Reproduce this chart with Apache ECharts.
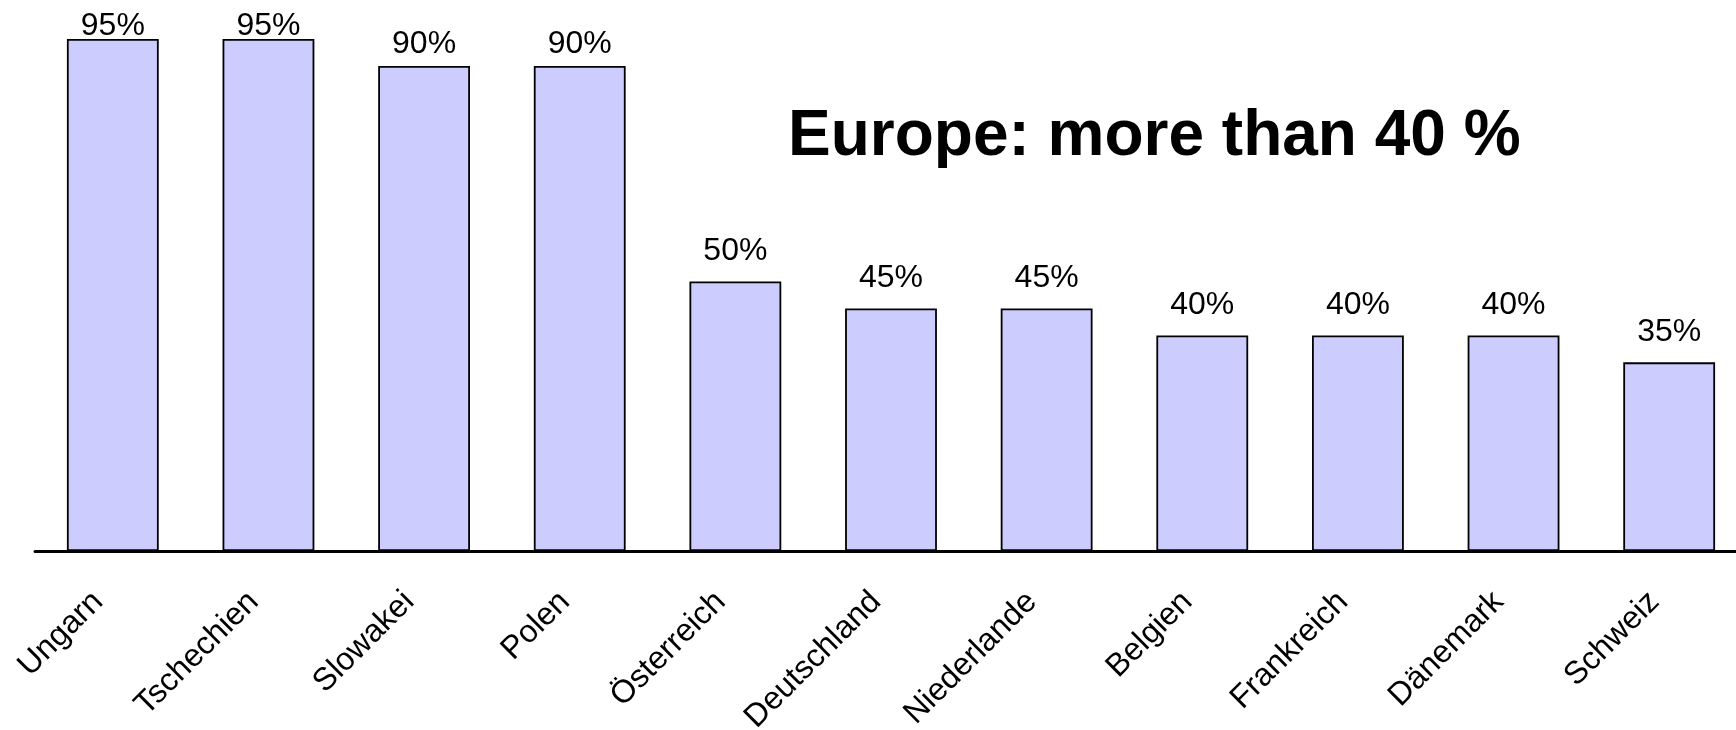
<!DOCTYPE html>
<html>
<head>
<meta charset="utf-8">
<script src="https://cdn.jsdelivr.net/npm/echarts@6/dist/echarts.min.js"></script>
<style>html,body{margin:0;padding:0;background:#fff}#c{width:1736px;height:730px}</style>
</head>
<body>
<div id="c"></div>
<script>
const categories = ['Ungarn','Tschechien','Slowakei','Polen','Österreich','Deutschland','Niederlande','Belgien','Frankreich','Dänemark','Schweiz'];
const values = [95,95,90,90,50,45,45,40,40,40,35];
const titleText = 'Europe: more than 40 %';

function labelDistance(v) {
  // labels of the tallest bars are pushed down toward the bar top in the original
  if (v >= 95) return -3;
  if (v >= 90) return 6;
  return 14;
}

const chart = echarts.init(document.getElementById('c'), null, {renderer:'canvas'});
chart.setOption({
  animation: false,
  backgroundColor: '#ffffff',
  title: {
    text: titleText,
    left: 788, top: 105, padding: 0,
    textStyle: {fontFamily: 'Liberation Sans', fontWeight: 'bold', fontSize: 64, color: '#000'}
  },
  grid: {left: 35, width: 1712, top: 12, bottom: 179, containLabel: false, outerBoundsMode: 'none'},
  xAxis: {
    type: 'category', data: categories,
    axisLine: {show: true, lineStyle: {color: '#000', width: 3}},
    axisTick: {show: false},
    axisLabel: {interval: 0, rotate: 45, margin: 31, padding: [0, 21, 0, 0], color: '#000', fontSize: 32, fontFamily: 'Liberation Sans'}
  },
  yAxis: {type: 'value', min: 0, max: 100, show: false, splitLine: {show: false}},
  series: [{
    type: 'bar',
    data: values.map(v => ({value: v, label: {distance: labelDistance(v)}})),
    barCategoryGap: '41%',
    itemStyle: {color: '#CCCCFF', borderColor: '#000', borderWidth: 1.8},
    label: {show: true, position: 'top', formatter: '{c}%', color: '#000', fontSize: 32, fontFamily: 'Liberation Sans'}
  }]
});
</script>
</body>
</html>
